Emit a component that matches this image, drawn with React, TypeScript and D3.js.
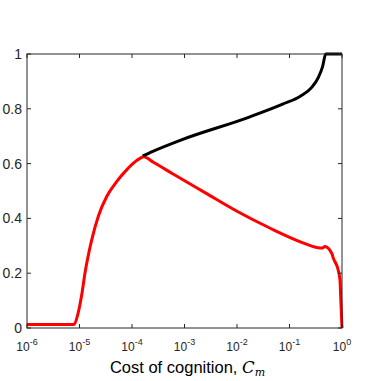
import React from 'react';
import { scaleLog, scaleLinear, line, curveMonotoneX } from 'd3';

// red curve
const redCost = [1e-6, 7.9e-6, 9.3e-6, 1.1e-5, 1.27e-5, 1.7e-5, 2.3e-5, 3.3e-5, 5.1e-5, 7.9e-5, 1.15e-4, 1.45e-4, 1.65e-4, 2.6e-4, 6.3e-4, 2.5e-3, 1e-2, 4.3e-2, 0.18, 0.33, 0.42, 0.47, 0.64, 0.68, 0.85, 0.916, 0.944, 1.0];
const redValue = [0.013, 0.013, 0.05, 0.12, 0.2, 0.32, 0.41, 0.48, 0.534, 0.577, 0.607, 0.62, 0.625, 0.604, 0.56, 0.493, 0.426, 0.364, 0.311, 0.294, 0.292, 0.297, 0.272, 0.256, 0.21, 0.175, 0.114, 0];

// black curve
const blackCost = [1.6e-4, 2.5e-4, 8.5e-4, 1.66e-2, 7.6e-2, 0.158, 0.265, 0.355, 0.427, 0.49, 1.0];
const blackValue = [0.628, 0.645, 0.686, 0.769, 0.818, 0.845, 0.878, 0.915, 0.954, 1.0, 1.0];

const xTickExp = [-6, -5, -4, -3, -2, -1, 0];
const yTicks = [0, 0.2, 0.4, 0.6, 0.8, 1];
const yTickLabels = ['0', '0.2', '0.4', '0.6', '0.8', '1'];

export default function App() {
  const width = 374;
  const height = 381;
  const margin = { top: 54, right: 32, bottom: 53, left: 27 };
  const iw = width - margin.left - margin.right;
  const ih = height - margin.top - margin.bottom;

  const x = scaleLog().domain([1e-6, 1]).range([0, iw]);
  const y = scaleLinear().domain([0, 1]).range([ih, 0]);

  const path = line<[number, number]>()
    .x(d => x(d[0]))
    .y(d => y(d[1]))
    .curve(curveMonotoneX);

  const red = redCost.map((c, i) => [c, redValue[i]] as [number, number]);
  const black = blackCost.map((c, i) => [c, blackValue[i]] as [number, number]);

  const axisColor = '#262626';
  const font = '"Liberation Sans", Arial, Helvetica, sans-serif';
  const serif = '"DejaVu Serif", "Liberation Serif", serif';
  const tl = 4;

  return (
    <svg width={width} height={height} style={{ position: 'absolute', left: 0, top: 0, background: '#fff' }}>
      <g transform={`translate(${margin.left},${margin.top})`}>
        <path d={path(red) || ''} fill="none" stroke="#ff0000" strokeWidth={3} strokeLinejoin="round" />
        <path d={path(black) || ''} fill="none" stroke="#000" strokeWidth={3} strokeLinejoin="round" />

        <rect x={0} y={0} width={iw} height={ih} fill="none" stroke={axisColor} strokeWidth={1} />

        {xTickExp.map(e => {
          const px = x(Math.pow(10, e));
          return (
            <g key={e}>
              <line x1={px} x2={px} y1={ih} y2={ih - tl} stroke={axisColor} />
              <line x1={px} x2={px} y1={0} y2={tl} stroke={axisColor} />
              <text x={px} y={ih + 23} textAnchor="middle" fontFamily={font} fontSize={12} fill={axisColor}>
                10<tspan dy={-6} fontSize={9}>{e}</tspan>
              </text>
            </g>
          );
        })}

        {yTicks.map((v, i) => {
          const py = y(v);
          return (
            <g key={v}>
              <line x1={0} x2={tl} y1={py} y2={py} stroke={axisColor} />
              <line x1={iw} x2={iw - tl} y1={py} y2={py} stroke={axisColor} />
              <text x={-5} y={py} dy="0.36em" textAnchor="end" fontFamily={font} fontSize={14} fill={axisColor}>
                {yTickLabels[i]}
              </text>
            </g>
          );
        })}

        <text x={iw / 2 + 3} y={ih + 45} textAnchor="middle" fontFamily={font} fontSize={16.5} fill="#000">
          Cost of cognition,{' '}
          <tspan fontFamily={serif} fontStyle="italic">C</tspan>
          <tspan fontFamily={serif} fontStyle="italic" fontSize={11} dy={3}>m</tspan>
        </text>
      </g>
    </svg>
  );
}
